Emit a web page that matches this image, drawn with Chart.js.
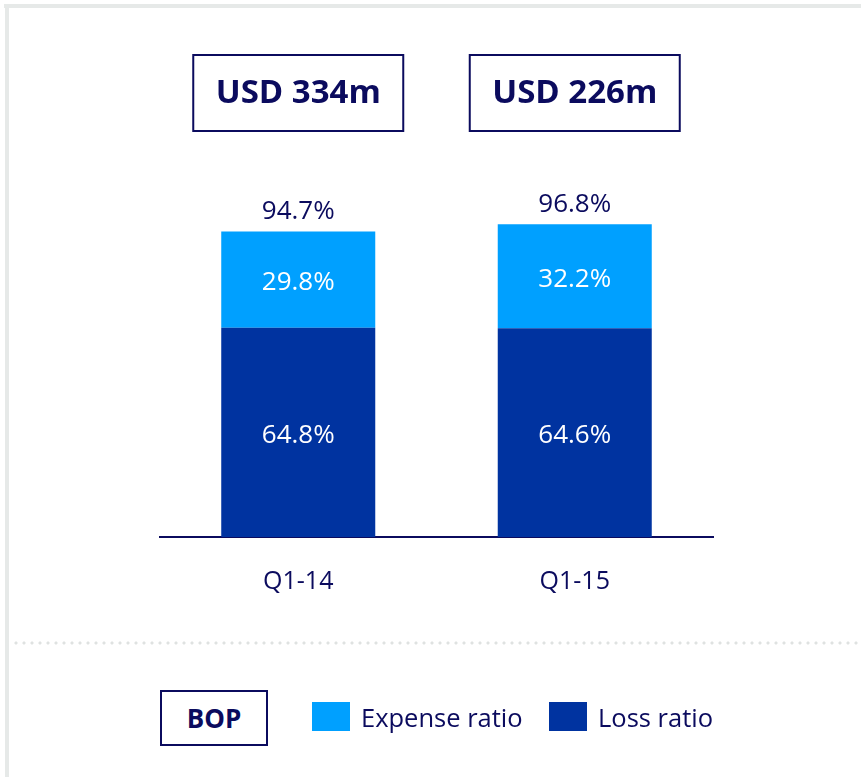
<!DOCTYPE html>
<html lang="en">
<head>
<meta charset="UTF-8">
<title>BOP combined ratio</title>
<script src="https://cdn.jsdelivr.net/npm/chart.js"></script>
<style>
    html, body { margin: 0; padding: 0; background: #fff; }
    #wrap { position: relative; width: 861px; height: 777px; overflow: hidden; font-family: "Open Sans", sans-serif; }
    #frameTop { position: absolute; left: 4px; top: 4px; width: 857px; height: 4px; background: #e6e9e8; }
    #frameLeft { position: absolute; left: 5px; top: 4px; width: 4px; height: 773px; background: #e6e9e8; }
    #dots { position: absolute; left: 12px; top: 641px; width: 849px; height: 4px;
        background-image: radial-gradient(circle, #dfe2e1 1.3px, transparent 1.8px);
        background-size: 8px 4px; }
    canvas { position: absolute; left: 0; top: 0; }
    #legend { position: absolute; left: 0; top: 690px; height: 58px; }
    .bop { position: absolute; left: 160px; top: 0; width: 104px; height: 52px; border: 2px solid #0b0b5e;
        color: #0b0b5e; font-weight: 700; font-size: 26px; line-height: 52px; text-align: center; background: #fff; }
    .item { position: absolute; top: 12px; height: 29px; display: flex; align-items: center; color: #0b0b5e; font-size: 25.5px; white-space: nowrap; }
    .sw { width: 38px; height: 29px; margin-right: 11px; }
</style>
</head>
<body>
<div id="wrap">
    <div id="frameTop"></div>
    <div id="frameLeft"></div>
    <div id="dots"></div>
    <canvas id="chart" width="861" height="777"></canvas>
    <div id="legend">
        <div class="bop">BOP</div>
    </div>
</div>
<script>
    var kategoriler = ["Q1-14", "Q1-15"];
    var zararOrani = [64.8, 64.6];     // Loss ratio
    var giderOrani = [29.8, 32.2];     // Expense ratio
    var toplamlar = [94.7, 96.8];      // combined ratio
    var tutarlar = ["USD 334m", "USD 226m"];

    var lacivert = "#0b0b5e";
    var renkZarar = "#0033a0";
    var renkGider = "#00a0ff";

    // legend
    var legendItems = [
        { label: "Expense ratio", color: renkGider, left: 312 },
        { label: "Loss ratio", color: renkZarar, left: 549 }
    ];
    var legendEl = document.getElementById("legend");
    legendItems.forEach(function (it) {
        var d = document.createElement("div");
        d.className = "item";
        d.style.left = it.left + "px";
        d.innerHTML = '<span class="sw" style="background:' + it.color + '"></span>' + it.label;
        legendEl.appendChild(d);
    });

    var etiketPlugin = {
        id: "etiketler",
        afterDatasetsDraw: function (chart) {
            var ctx = chart.ctx;
            ctx.save();
            ctx.textAlign = "center";
            ctx.textBaseline = "middle";
            ctx.font = "26px 'Open Sans'";
            ctx.fillStyle = "#ffffff";
            chart.data.datasets.forEach(function (ds, di) {
                chart.getDatasetMeta(di).data.forEach(function (bar, i) {
                    var mid = (bar.y + bar.base) / 2;
                    ctx.fillText(ds.data[i].toFixed(1) + "%", bar.x, mid + 3);
                });
            });
            // totals and amount boxes
            var ust = chart.getDatasetMeta(1).data;
            ust.forEach(function (bar, i) {
                ctx.fillStyle = lacivert;
                ctx.font = "26px 'Open Sans'";
                ctx.fillText(toplamlar[i].toFixed(1) + "%", bar.x, bar.y - 20);
                var w = 210, h = 76, top = 55;
                ctx.lineWidth = 2;
                ctx.strokeStyle = lacivert;
                ctx.strokeRect(bar.x - w / 2, top, w, h);
                ctx.font = "bold 33px 'Open Sans'";
                ctx.fillText(tutarlar[i], bar.x, top + h / 2 + 1);
            });
            ctx.restore();
        }
    };

    var grafik = new Chart(document.getElementById("chart").getContext("2d"), {
        type: "bar",
        data: {
            labels: kategoriler,
            datasets: [{
                label: "Loss ratio",
                data: zararOrani,
                backgroundColor: renkZarar
            }, {
                label: "Expense ratio",
                data: giderOrani,
                backgroundColor: renkGider
            }]
        },
        options: {
            responsive: false,
            animation: false,
            categoryPercentage: 1,
            barPercentage: 0.557,
            layout: { padding: { left: 160, right: 148, top: 214, bottom: 0 } },
            plugins: { legend: { display: false }, tooltip: { enabled: false } },
            scales: {
                x: {
                    stacked: true,
                    grid: { display: false },
                    border: { color: lacivert, width: 2 },
                    ticks: { color: lacivert, font: { family: "Open Sans", size: 25 }, padding: 22 },
                    afterFit: function (s) { s.height = 240; }
                },
                y: {
                    stacked: true,
                    display: false,
                    min: 0,
                    max: 100
                }
            }
        },
        plugins: [etiketPlugin]
    });
</script>
</body>
</html>
